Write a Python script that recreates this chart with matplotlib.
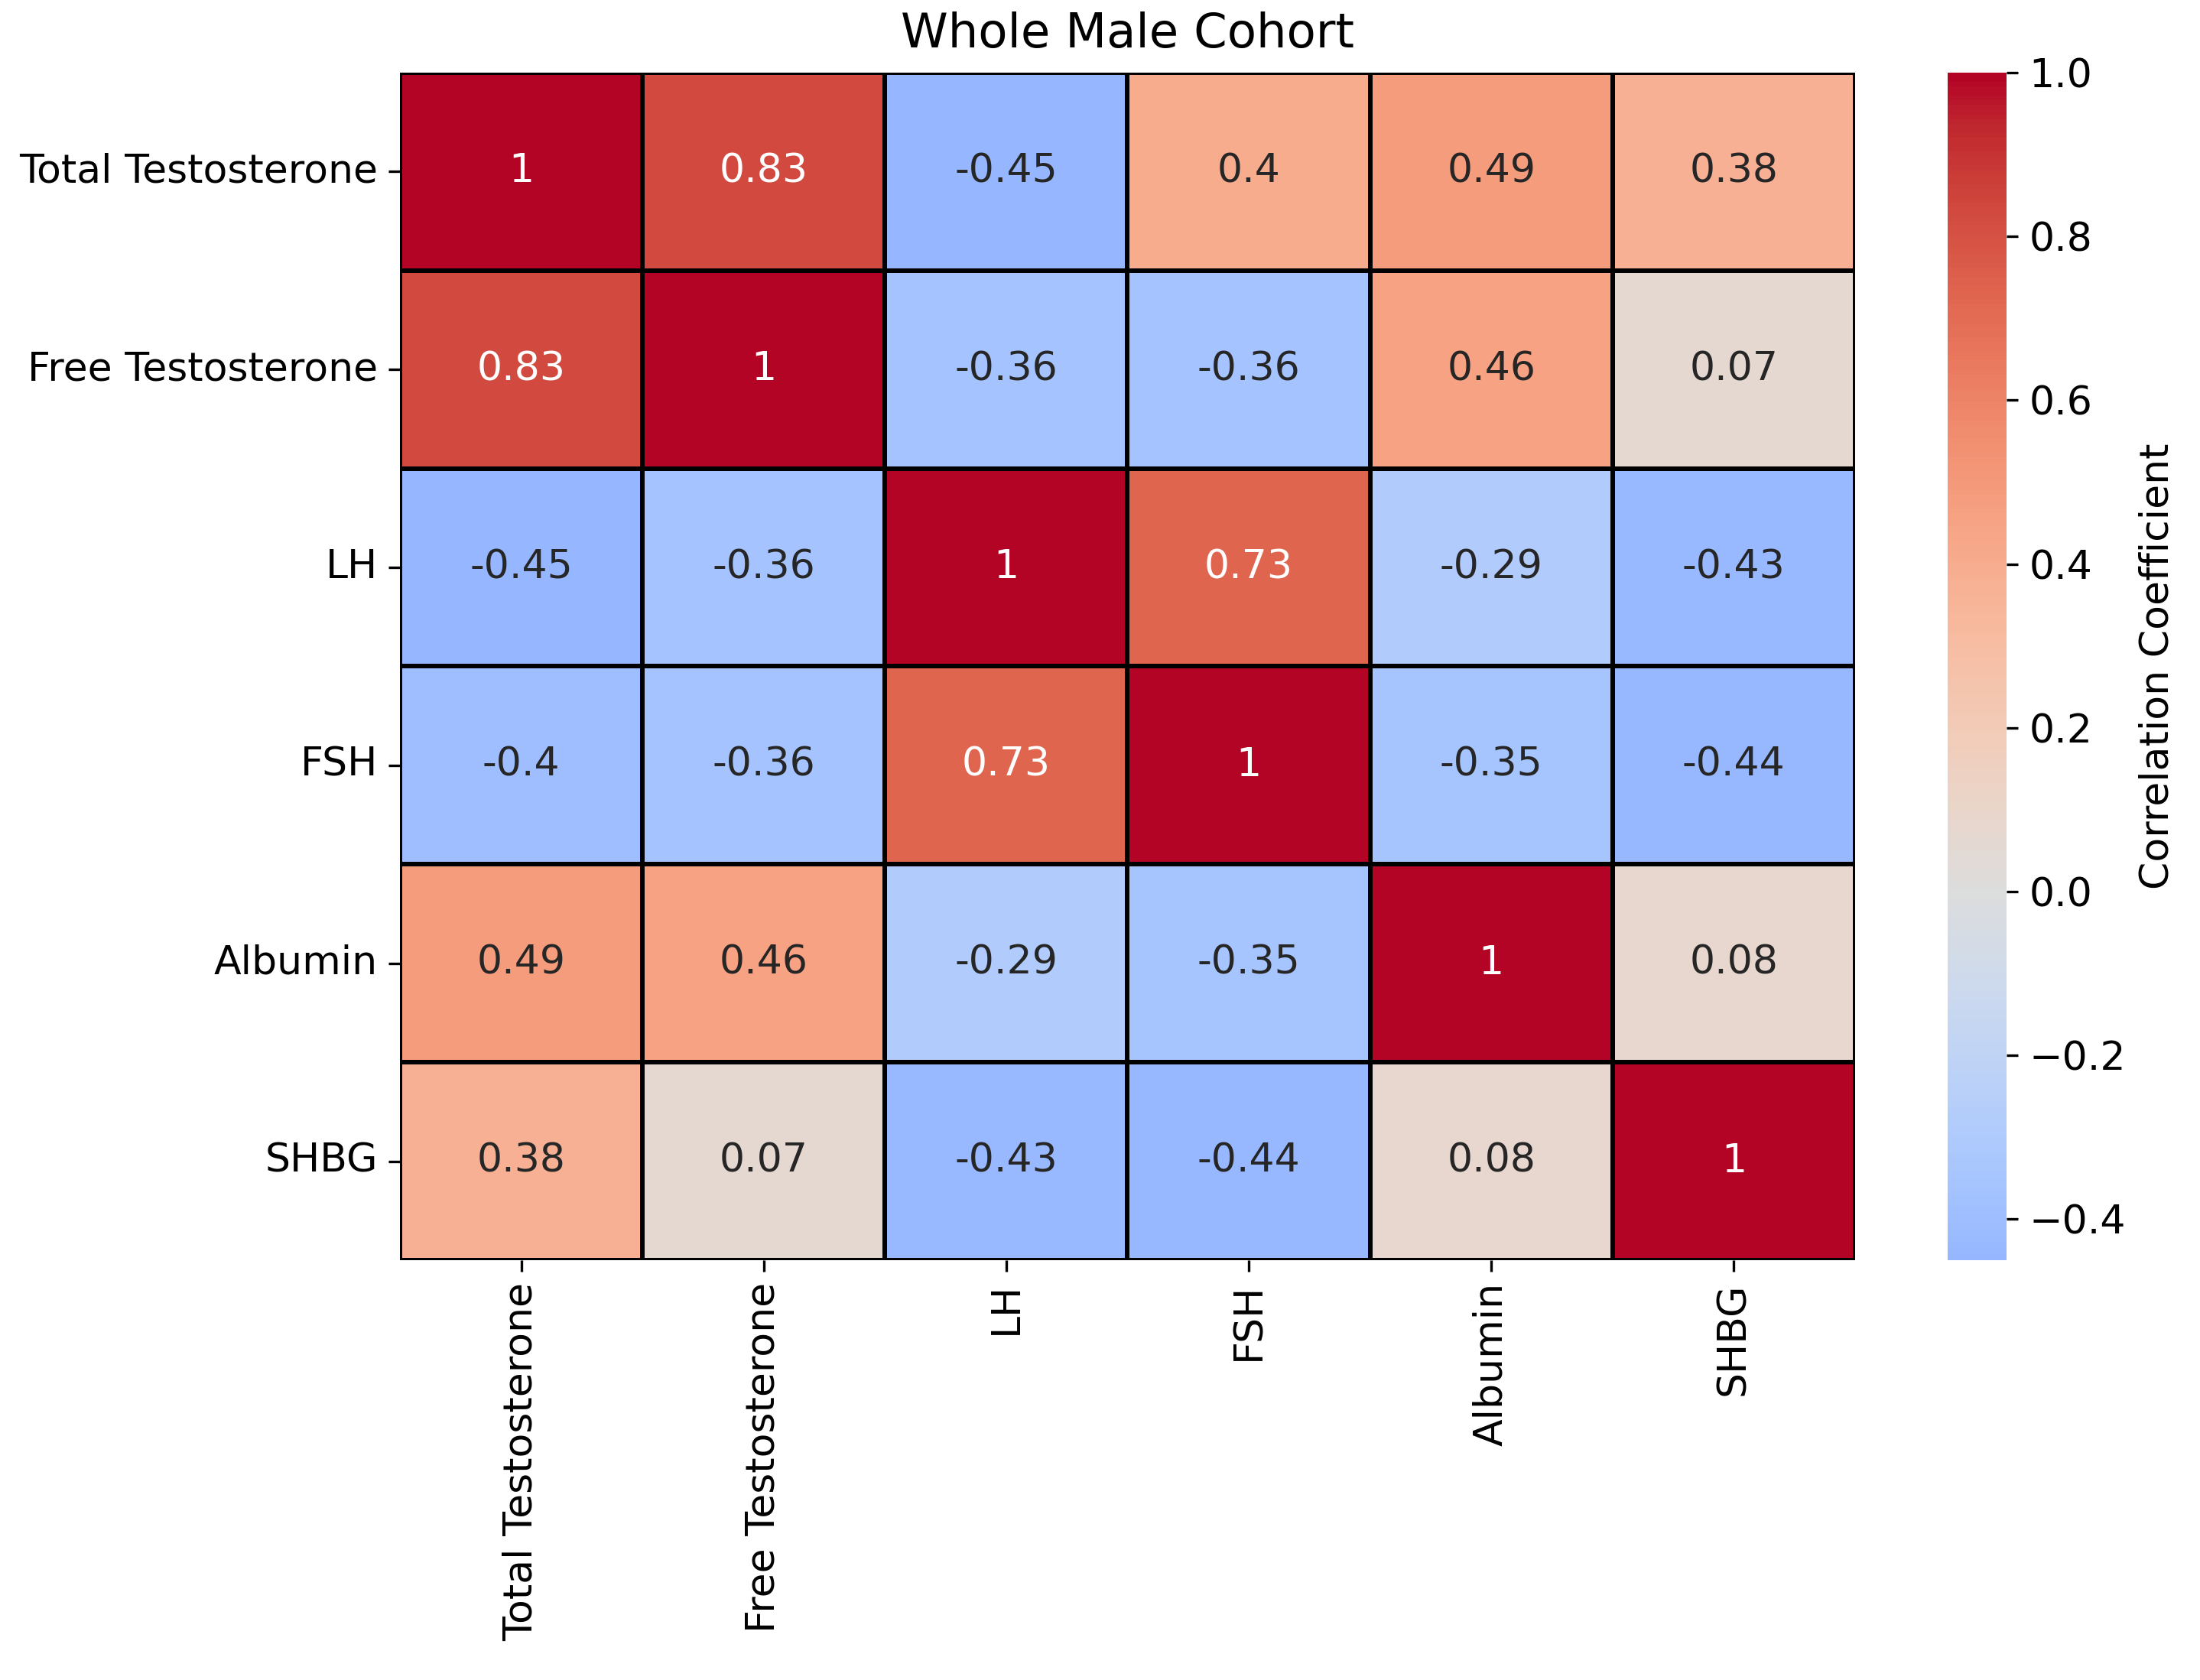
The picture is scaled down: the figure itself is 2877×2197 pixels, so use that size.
import matplotlib
matplotlib.use("Agg")
import matplotlib.pyplot as plt
import seaborn as sns
import numpy as np
import pandas as pd

labels = ["Total Testosterone", "Free Testosterone", "LH", "FSH", "Albumin", "SHBG"]
row_tt = [1, 0.83, -0.45, 0.4, 0.49, 0.38]
row_ft = [0.83, 1, -0.36, -0.36, 0.46, 0.07]
row_lh = [-0.45, -0.36, 1, 0.73, -0.29, -0.43]
row_fsh = [-0.4, -0.36, 0.73, 1, -0.35, -0.44]
row_alb = [0.49, 0.46, -0.29, -0.35, 1, 0.08]
row_shbg = [0.38, 0.07, -0.43, -0.44, 0.08, 1]

df = pd.DataFrame([row_tt, row_ft, row_lh, row_fsh, row_alb, row_shbg],
                  index=labels, columns=labels)

plt.rcParams['font.family'] = ['DejaVu Sans']
fig = plt.figure(figsize=(2877/300, 2197/300), dpi=300)
ax = fig.add_axes([0.1818, 0.2499, 0.8432-0.1818, 0.9568-0.2499])
cax = fig.add_axes([0.8853, 0.2499, 0.0268, 0.9568-0.2499])

sns.heatmap(df, ax=ax, cbar_ax=cax, annot=True, cmap="coolwarm", center=0,
            linewidths=1, linecolor="black", annot_kws={"size": 12.5},
            cbar_kws={"label": "Correlation Coefficient"})
ax.set_title("Whole Male Cohort", fontsize=15, pad=8)
ax.tick_params(axis='both', labelsize=12.5)
ax.set_xticklabels(labels, rotation=90, fontsize=12.5)
ax.set_yticklabels(labels, rotation=0, fontsize=12.5)
cax.tick_params(labelsize=12.5)
cax.yaxis.label.set_size(12.5)
for s in ax.spines.values():
    s.set_visible(False)

fig.savefig("out.png", dpi=300)
